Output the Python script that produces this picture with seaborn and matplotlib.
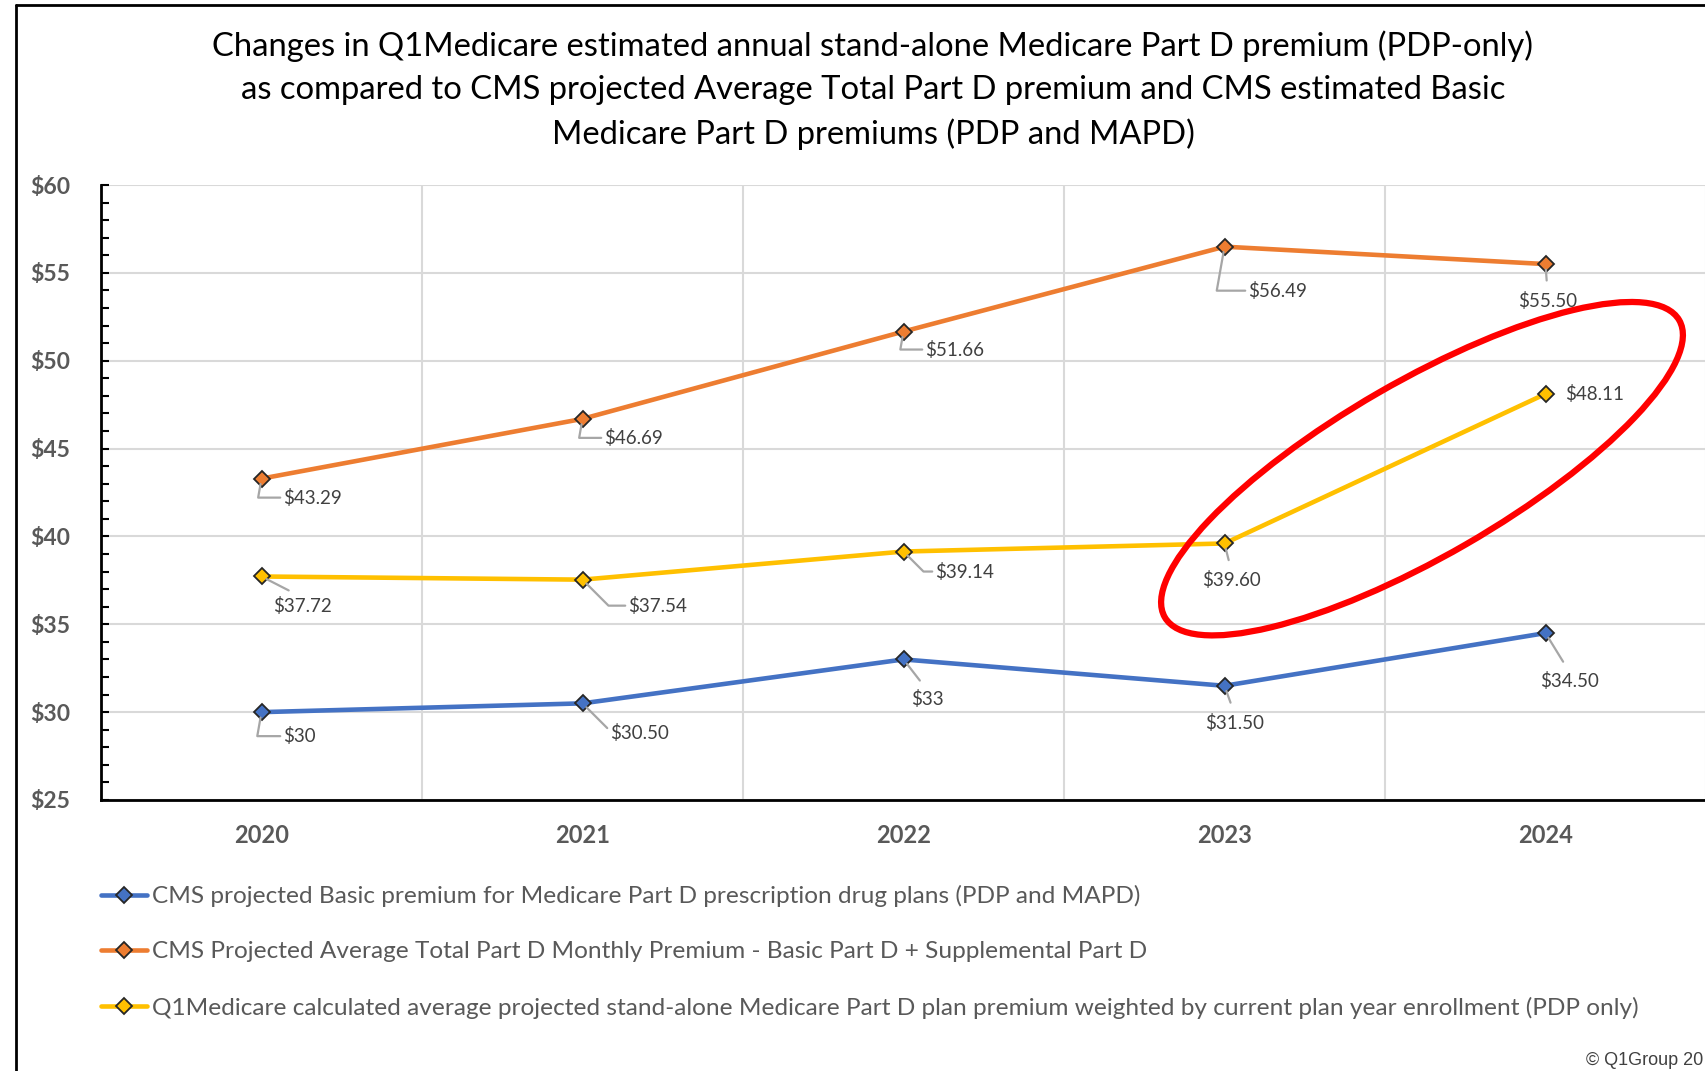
import numpy as np
import pandas as pd
import matplotlib
matplotlib.use("Agg")
import matplotlib.pyplot as plt
from matplotlib.lines import Line2D
from matplotlib.patches import Ellipse
from matplotlib.transforms import IdentityTransform
from matplotlib.ticker import MultipleLocator, FixedLocator
import seaborn as sns

# data
years = ["2020", "2021", "2022", "2023", "2024"]
basic = [30, 30.50, 33, 31.50, 34.50]
total = [43.29, 46.69, 51.66, 56.49, 55.50]
q1 = [37.72, 37.54, 39.14, 39.60, 48.11]
series_names = [
    "CMS projected Basic premium for Medicare Part D prescription drug plans (PDP and MAPD)",
    "CMS Projected Average Total Part D Monthly Premium - Basic Part D + Supplemental Part D",
    "Q1Medicare calculated average projected stand-alone Medicare Part D plan premium weighted by current plan year enrollment (PDP only)",
]
colors = ["#4472C4", "#ED7D31", "#FFC000"]
title = ("Changes in Q1Medicare estimated annual stand-alone Medicare Part D premium (PDP-only)\n"
         "as compared to CMS projected Average Total Part D premium and CMS estimated Basic\n"
         "Medicare Part D premiums (PDP and MAPD)")
credit = "\u00a9 Q1Group 20"

# label placement (offset in pixels from point, alignment, leader type)
label_pos = [
    [(22, -24, "left", "elbow"), (28, -30, "left", "slant"), (24, -40, "center", "diag"),
     (10, -37, "center", "diag"), (24, -48, "center", "diag")],
    [(22, -19, "left", "elbow"), (22, -19, "left", "elbow"), (22, -18, "left", "elbow"),
     (24, -44, "left", "elbow"), (2, -37, "center", "diag")],
    [(41, -30, "center", "diag"), (46, -26, "left", "slant"), (32, -20, "left", "slant"),
     (7, -37, "center", "diag"), (20, 0, "left", None)],
]

df = pd.DataFrame({
    "Year": years * 3,
    "Premium": basic + total + q1,
    "Series": sum([[n] * len(years) for n in series_names], []),
})

sns.set_theme(style="white")
plt.rcParams["font.family"] = ["Lato", "DejaVu Sans"]

fig = plt.figure(figsize=(17.06, 10.71), dpi=100)
ax = fig.add_axes([101 / 1706, 1 - 800 / 1071, 1 - 101 / 1706, (800 - 185) / 1071])

sns.lineplot(data=df, x="Year", y="Premium", hue="Series", palette=colors, sort=False,
             marker="D", markersize=8, markeredgecolor="#262626", markeredgewidth=1.3,
             linewidth=3.3, legend=False, ax=ax)

ax.set_xlim(-0.5, 4.5)
ax.set_ylim(25, 60)
ax.set_xlabel("")
ax.set_ylabel("")
ax.yaxis.set_major_locator(MultipleLocator(5))
ax.yaxis.set_minor_locator(MultipleLocator(1))
ax.set_yticklabels([f"${int(v)}" for v in ax.get_yticks()])
ax.xaxis.set_minor_locator(FixedLocator(np.arange(0.5, 5, 1)))
ax.grid(axis="y", which="major", color="#d9d9d9", lw=1.5)
ax.grid(axis="x", which="minor", color="#d9d9d9", lw=1.5)
ax.set_axisbelow(True)
for s in ["top", "right"]:
    ax.spines[s].set_visible(False)
for s in ["left", "bottom"]:
    ax.spines[s].set_color("black")
    ax.spines[s].set_linewidth(2)
ax.tick_params(axis="y", which="both", direction="in", length=6, width=1.5, color="black",
               left=True, pad=22)
ax.tick_params(axis="y", labelsize=16.5, labelcolor="#595959")
ax.tick_params(axis="x", which="both", length=0, pad=17, labelsize=17, labelcolor="#595959")
for t in ax.get_xticklabels() + ax.get_yticklabels():
    t.set_fontweight("bold")

# data labels with leader lines
styles = {
    "elbow": dict(connectionstyle="angle,angleA=0,angleB=80,rad=0", relpos=(0, 0.5)),
    "slant": dict(connectionstyle="angle,angleA=0,angleB=-45,rad=0", relpos=(0, 0.5)),
    "diag": dict(connectionstyle="arc3", relpos=(0.5, 1)),
}
for vals, poss in zip([basic, total, q1], label_pos):
    for i, (v, (dx, dy, ha, kind)) in enumerate(zip(vals, poss)):
        txt = f"${v:.0f}" if float(v).is_integer() else f"${v:.2f}"
        arrow = None
        if kind:
            arrow = dict(arrowstyle="-", color="#a6a6a6", lw=1.6, shrinkB=4,
                         shrinkA=6 if kind == "diag" else 0, **styles[kind])
        ax.annotate(txt, (i, v), xytext=(dx, dy), textcoords="offset pixels",
                    ha=ha, va="center", fontsize=13.5, color="#404040",
                    arrowprops=arrow, zorder=5)

# red highlight ellipse around the last yellow segment
cx, cy = ax.transData.transform((3.5, (q1[3] + q1[4]) / 2))
fig.add_artist(Ellipse((cx + 37, cy), 594, 175, angle=30, transform=IdentityTransform(),
                       fill=False, ec="#ff0000", lw=4.5, zorder=10))

fig.text(873 / 1706, 1 - 90 / 1071, title, ha="center", va="center", fontsize=23.6,
         linespacing=1.52, color="black")

fig.legend(ax.lines[:3], series_names, loc="upper left",
           bbox_to_anchor=(101 / 1706, 1 - 885 / 1071), frameon=False, fontsize=17.6,
           handlelength=1.9, handletextpad=0.2, labelspacing=1.4, borderpad=0,
           borderaxespad=0, labelcolor="#595959")

fig.text(1 - 3 / 1706, 6 / 1071, credit, ha="right", va="baseline",
         fontsize=13, color="#404040", family=["Liberation Sans", "DejaVu Sans"])

# frame lines of the original graphic
fig.add_artist(Line2D([16 / 1706, 16 / 1706], [0, 1 - 5 / 1071], transform=fig.transFigure,
                      color="black", lw=2))
fig.add_artist(Line2D([16 / 1706, 1], [1 - 5 / 1071, 1 - 5 / 1071], transform=fig.transFigure,
                      color="black", lw=2))

fig.savefig("out.png", dpi=100)
